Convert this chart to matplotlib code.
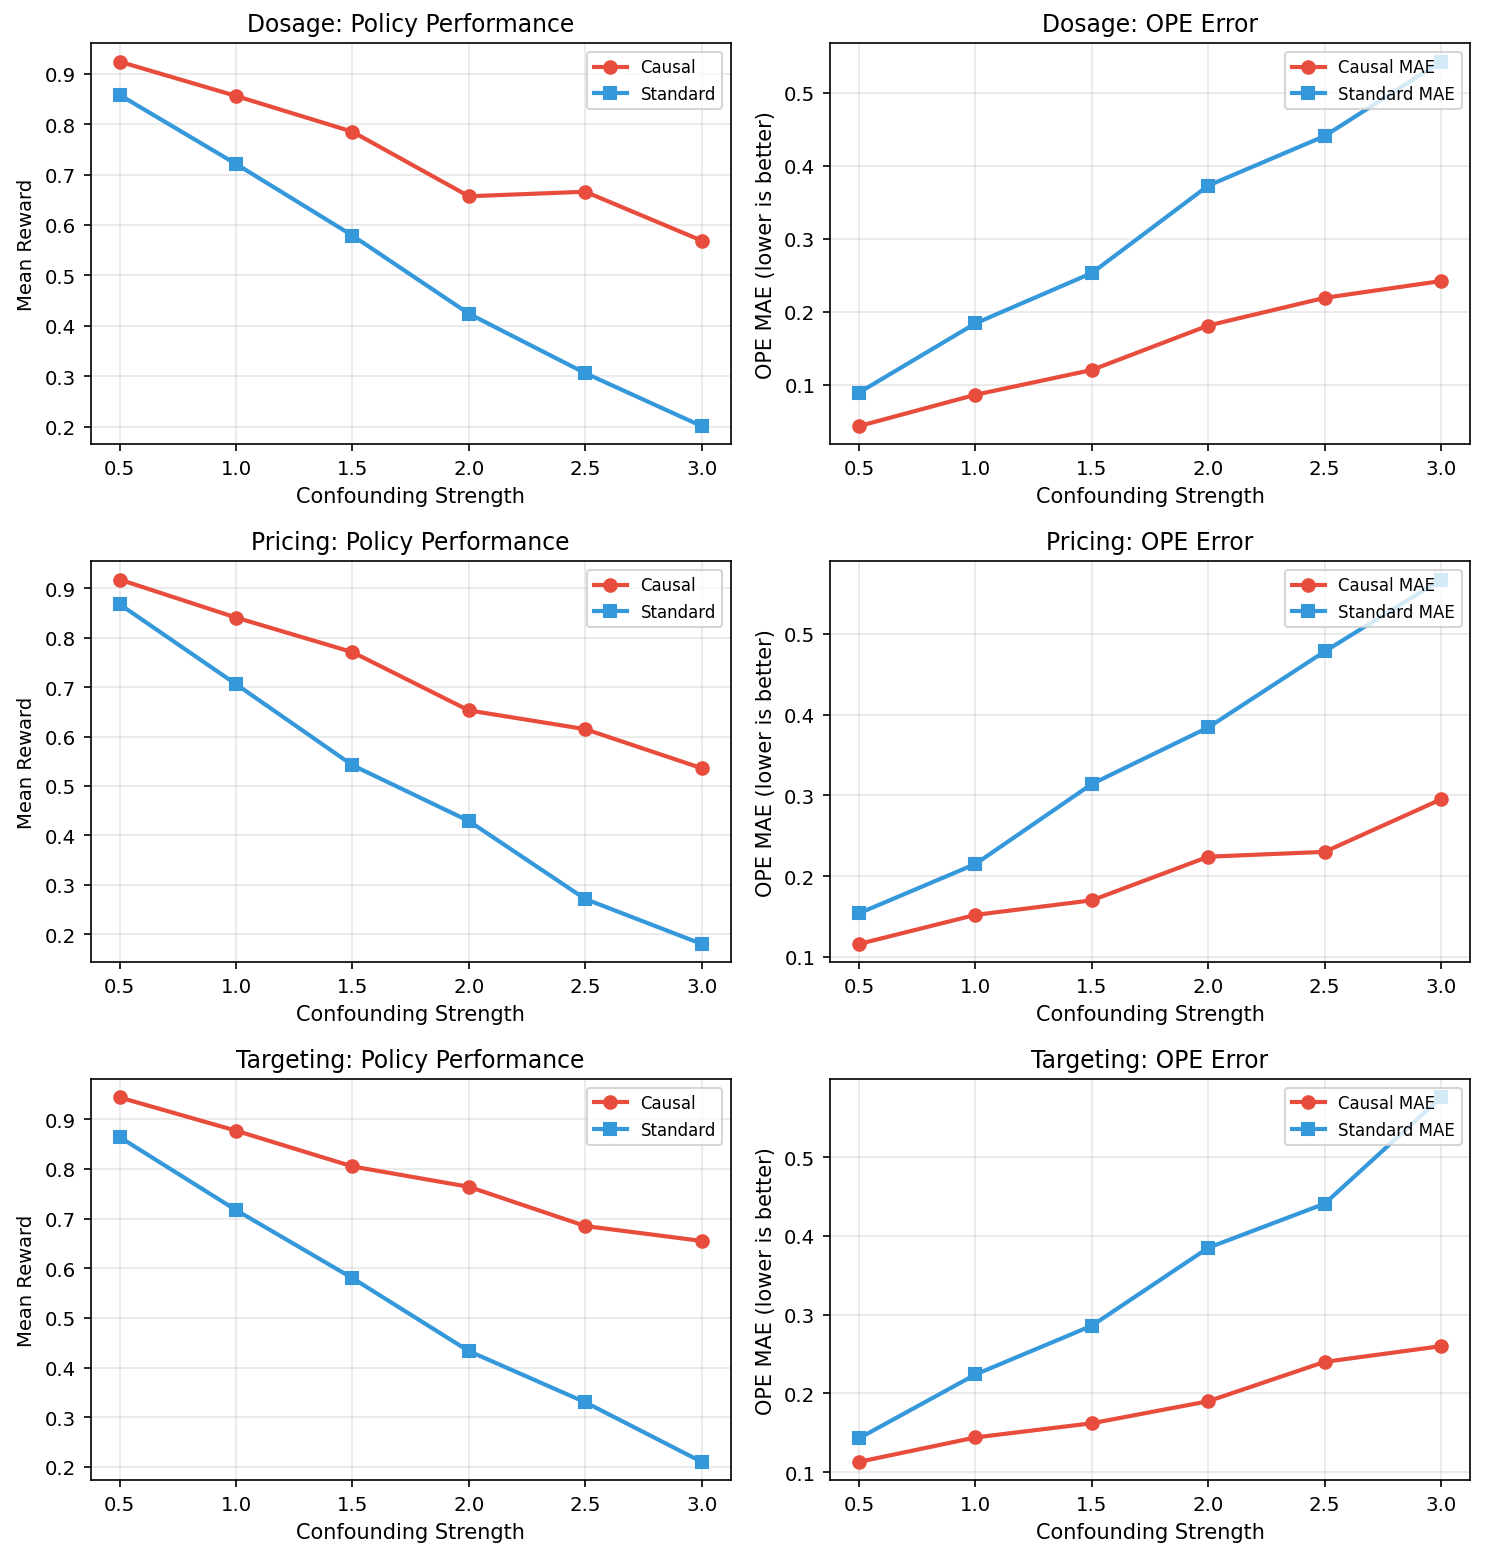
import matplotlib.pyplot as plt
import numpy as np

plt.rcParams['font.size'] = 9.5

strengths = [0.5, 1.0, 1.5, 2.0, 2.5, 3.0]
domains = ['Dosage', 'Pricing', 'Targeting']

causal_reward = {
    'Dosage':    [0.924, 0.856, 0.785, 0.657, 0.666, 0.569],
    'Pricing':   [0.918, 0.841, 0.771, 0.653, 0.615, 0.536],
    'Targeting': [0.944, 0.877, 0.805, 0.764, 0.685, 0.655],
}
standard_reward = {
    'Dosage':    [0.858, 0.721, 0.579, 0.424, 0.306, 0.201],
    'Pricing':   [0.868, 0.706, 0.542, 0.429, 0.271, 0.180],
    'Targeting': [0.864, 0.717, 0.580, 0.433, 0.330, 0.210],
}
causal_mae = {
    'Dosage':    [0.043, 0.086, 0.120, 0.181, 0.219, 0.242],
    'Pricing':   [0.116, 0.152, 0.170, 0.224, 0.230, 0.295],
    'Targeting': [0.113, 0.144, 0.162, 0.190, 0.240, 0.260],
}
standard_mae = {
    'Dosage':    [0.089, 0.184, 0.253, 0.373, 0.441, 0.543],
    'Pricing':   [0.154, 0.215, 0.314, 0.384, 0.478, 0.567],
    'Targeting': [0.143, 0.224, 0.286, 0.385, 0.441, 0.576],
}

red = '#e74c3c'
blue = '#3498db'

fig, axes = plt.subplots(3, 2, figsize=(9.9, 10.393))
plt.subplots_adjust(left=0.061, right=0.99, top=0.9715, bottom=0.05,
                    wspace=0.155, hspace=0.292)

for i, d in enumerate(domains):
    ax = axes[i, 0]
    ax.plot(strengths, causal_reward[d], 'o-', color=red, lw=2, markersize=6, label='Causal')
    ax.plot(strengths, standard_reward[d], 's-', color=blue, lw=2, markersize=6, label='Standard')
    ax.set_xlabel('Confounding Strength', fontsize=10)
    ax.set_ylabel('Mean Reward', fontsize=9.4)
    ax.set_title(f'{d}: Policy Performance', fontsize=11.3)
    ax.legend(fontsize=8, loc='upper right')
    ax.grid(True, alpha=0.3)

    ax = axes[i, 1]
    ax.plot(strengths, causal_mae[d], 'o-', color=red, lw=2, markersize=6, label='Causal MAE')
    ax.plot(strengths, standard_mae[d], 's-', color=blue, lw=2, markersize=6, label='Standard MAE')
    ax.set_xlabel('Confounding Strength', fontsize=10)
    ax.set_ylabel('OPE MAE (lower is better)', fontsize=10)
    ax.set_title(f'{d}: OPE Error', fontsize=11.3)
    ax.legend(fontsize=8, loc='upper right')
    ax.grid(True, alpha=0.3)

plt.savefig('out.png', dpi=150)
